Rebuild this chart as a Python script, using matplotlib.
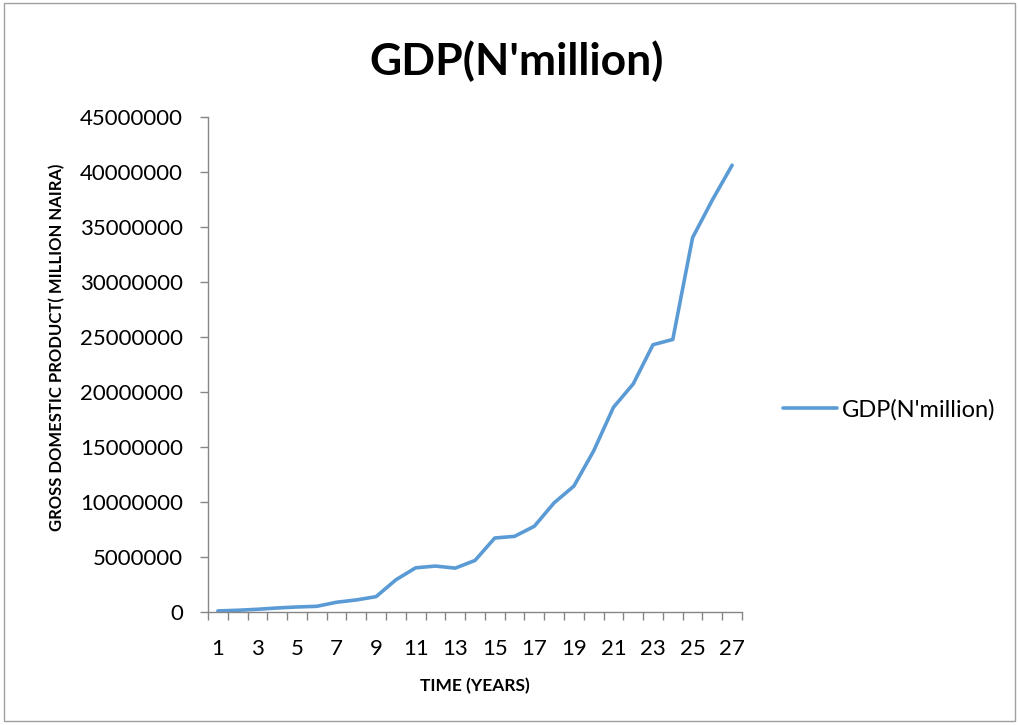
import matplotlib.pyplot as plt
from matplotlib.patches import Rectangle

# ----- Data -----
years = list(range(1, 28))
gdp = [140000, 200000, 290000, 410000, 500000, 560000, 930000, 1140000, 1440000,
       2970000, 4060000, 4220000, 4030000, 4730000, 6770000, 6920000, 7840000,
       9970000, 11490000, 14690000, 18650000, 20780000, 24340000, 24820000,
       34070000, 37500000, 40660000]
yticks = list(range(0, 45000001, 5000000))
xlabels = list(range(1, 28, 2))

plt.rcParams['font.family'] = ['Lato', 'DejaVu Sans']
grey = '#868686'

fig = plt.figure(figsize=(10.18, 7.25), dpi=100)
ax = fig.add_axes([0.2043, 0.1552, 0.5246, 0.6828])

line, = ax.plot(years, gdp, color='#5B9BD5', linewidth=2.6, solid_capstyle='round',
                solid_joinstyle='round', label="GDP(N'million)")

ax.set_xlim(0.5, 27.5)
ax.set_ylim(0, 45000000)

# x axis: ticks between categories, labels on odd categories
ax.set_xticks([i + 0.5 for i in range(0, 28)])
ax.set_xticklabels([])
ax.set_xticks(xlabels, minor=True)
ax.set_xticklabels([str(v) for v in xlabels], minor=True)
ax.tick_params(axis='x', which='major', direction='out', length=6, color=grey, width=1)
ax.tick_params(axis='x', which='minor', length=0, labelsize=16, pad=19)

ax.set_yticks(yticks)
ax.set_yticklabels([str(v) for v in yticks])
ax.tick_params(axis='y', direction='out', length=6, color=grey, width=1, labelsize=16, pad=12)

for s in ['top', 'right']:
    ax.spines[s].set_visible(False)
for s in ['left', 'bottom']:
    ax.spines[s].set_color(grey)
    ax.spines[s].set_linewidth(1)

ax.set_xlabel('TIME (YEARS)', fontsize=12.5, fontweight='bold', labelpad=14)
ax.set_ylabel('GROSS DOMESTIC PRODUCT( MILLION NAIRA)', fontsize=12, fontweight='bold')
ax.yaxis.set_label_coords(-0.268, 0.535)

fig.text(0.507, 0.915, "GDP(N'million)", ha='center', va='center', fontsize=32, fontweight='bold')

fig.legend(handles=[line], loc='center left', bbox_to_anchor=(0.769, 0.435),
           frameon=False, fontsize=17, handlelength=2.3, handletextpad=0.2,
           borderpad=0, borderaxespad=0)

# chart border
fig.patches.append(Rectangle((0.004, 0.006), 0.993, 0.99, transform=fig.transFigure,
                             fill=False, edgecolor='#A0A0A0', linewidth=1))

plt.savefig('out.png', dpi=100)
